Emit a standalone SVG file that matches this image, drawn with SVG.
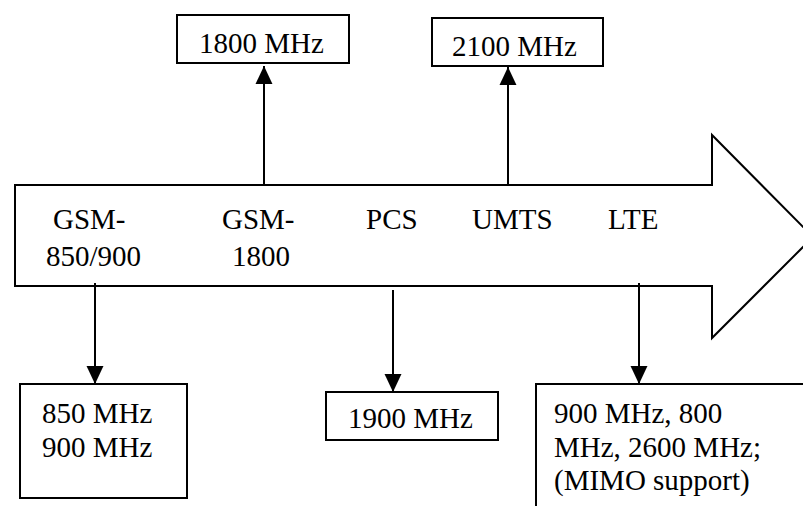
<svg xmlns="http://www.w3.org/2000/svg" width="803" height="506" viewBox="0 0 803 506">
  <style>
    .box { fill: #ffffff; stroke: #000000; stroke-width: 2; }
    .lbl { font-family: "Liberation Serif", "Times New Roman", serif; font-size: 29px; fill: #000000; }
    .wire { fill: none; stroke: #000000; stroke-width: 2; }
  </style>
  <defs>
    <marker id="tri" markerUnits="userSpaceOnUse" markerWidth="18" markerHeight="18" viewBox="0 0 17 16" refX="17" refY="8" orient="auto">
      <path d="M0,0 L17,8 L0,16 Z" fill="#000000"/>
    </marker>
  </defs>

  <!-- timeline arrow with standards -->
  <g id="timeline">
    <path class="box" d="M15,185 L712,185 L712,135 L813,237 L712,338 L712,286 L15,286 Z"/>
    <text class="lbl" x="53" y="229">GSM-</text>
    <text class="lbl" x="46" y="266">850/900</text>
    <text class="lbl" x="222" y="229">GSM-</text>
    <text class="lbl" x="232" y="266">1800</text>
    <text class="lbl" x="366" y="229">PCS</text>
    <text class="lbl" x="472" y="229">UMTS</text>
    <text class="lbl" x="608" y="229">LTE</text>
  </g>

  <!-- frequency boxes -->
  <g id="f1800">
    <rect class="box" x="177" y="15" width="172" height="48"/>
    <text class="lbl" x="199" y="53">1800 MHz</text>
  </g>
  <g id="f2100">
    <rect class="box" x="432" y="18" width="171" height="48"/>
    <text class="lbl" x="452" y="56">2100 MHz</text>
  </g>
  <g id="f850">
    <rect class="box" x="20" y="384" width="167" height="114"/>
    <text class="lbl" x="42" y="423">850 MHz</text>
    <text class="lbl" x="42" y="457">900 MHz</text>
  </g>
  <g id="f1900">
    <rect class="box" x="326" y="392" width="172" height="48"/>
    <text class="lbl" x="348" y="428">1900 MHz</text>
  </g>
  <g id="flte">
    <rect class="box" x="536" y="384" width="280" height="140"/>
    <text class="lbl" x="554" y="423">900 MHz, 800</text>
    <text class="lbl" x="554" y="457">MHz, 2600 MHz;</text>
    <text class="lbl" x="554" y="490">(MIMO support)</text>
  </g>

  <!-- connectors -->
  <g id="connectors">
    <line class="wire" x1="264" y1="185" x2="264" y2="66" marker-end="url(#tri)"/>
    <line class="wire" x1="508" y1="185" x2="508" y2="67" marker-end="url(#tri)"/>
    <line class="wire" x1="95" y1="283" x2="95" y2="384" marker-end="url(#tri)"/>
    <line class="wire" x1="393" y1="290" x2="393" y2="392" marker-end="url(#tri)"/>
    <line class="wire" x1="639" y1="283" x2="639" y2="384" marker-end="url(#tri)"/>
  </g>
</svg>
